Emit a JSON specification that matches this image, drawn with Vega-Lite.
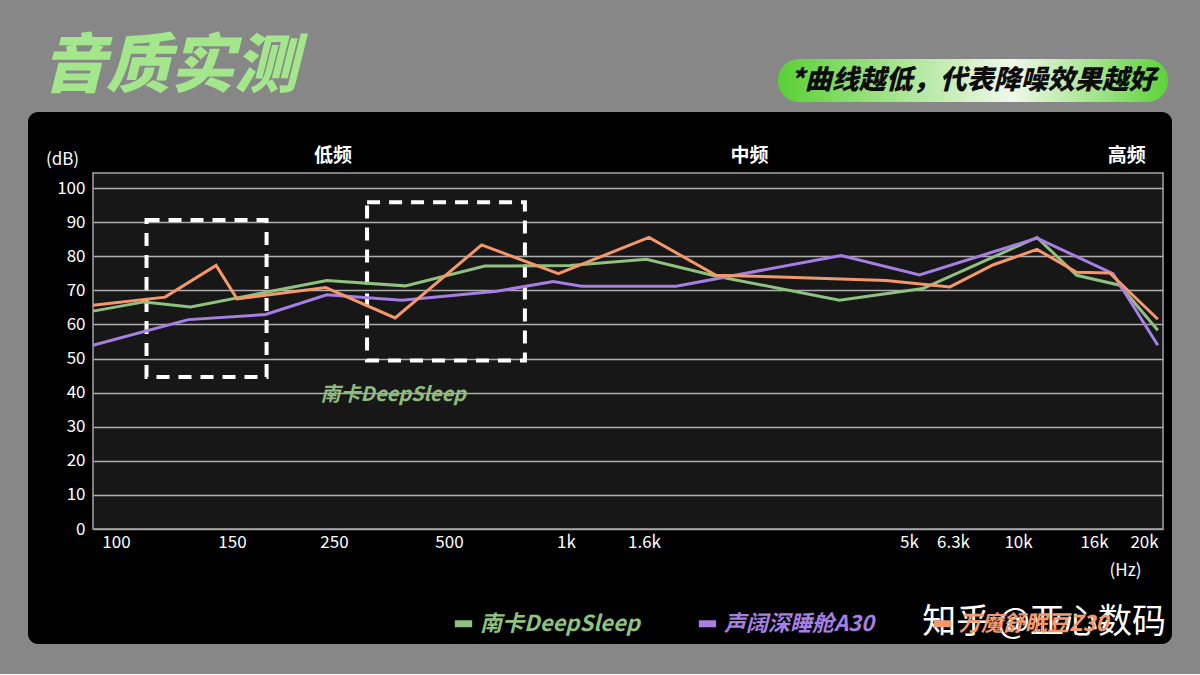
{
  "$schema": "https://vega.github.io/schema/vega-lite/v6.json",
  "background": "#878787",
  "padding": {"left": 28, "right": 28, "top": 36, "bottom": 30},
  "title": {
    "text": "音质实测",
    "anchor": "start",
    "orient": "top",
    "baseline": "bottom",
    "offset": -105,
    "dx": 14,
    "font": "Noto Sans CJK SC",
    "fontSize": 64,
    "fontWeight": 900,
    "fontStyle": "italic",
    "color": "#a3e68b"
  },
  "spacing": 10,
  "vconcat": [
    {
      "spacing": 0,
      "hconcat": [
        {
          "width": 750,
          "height": 43,
          "data": {"values": [{}]},
          "mark": {"type": "text", "text": ""}
        },
        {
          "width": 390,
          "height": 43,
          "data": {"values": [{}]},
          "layer": [
            {
              "mark": {
                "type": "rect",
                "cornerRadius": 21,
                "color": {
                  "gradient": "linear",
                  "x1": 0, "x2": 1, "y1": 0, "y2": 0,
                  "stops": [
                    {"offset": 0, "color": "#5ad034"},
                    {"offset": 0.6, "color": "#f0f8ea"},
                    {"offset": 1, "color": "#5ed23a"}
                  ]
                }
              },
              "encoding": {}
            },
            {
              "mark": {
                "type": "text",
                "text": "*曲线越低，代表降噪效果越好",
                "font": "Noto Sans CJK SC",
                "fontSize": 27,
                "fontWeight": 900,
                "fontStyle": "italic",
                "color": "#0d0d0d"
              },
              "encoding": {}
            }
          ]
        }
      ]
    },
    {
      "width": 1144,
      "height": 532,
      "view": {"fill": "#000000", "cornerRadius": 10, "stroke": null},
      "title": {
        "text": "知乎 @亚心数码",
        "orient": "bottom",
        "anchor": "end",
        "frame": "group",
        "offset": -38,
        "dx": -6,
        "font": "Noto Sans CJK SC",
        "fontSize": 34,
        "fontWeight": "normal",
        "color": "#ffffff"
      },
      "encoding": {
        "x": {
          "field": "freq",
          "type": "quantitative",
          "scale": {
            "type": "linear",
            "domain": [80, 100, 150, 250, 500, 1000, 1600, 5000, 6300, 10000, 16000, 20000],
            "range": [65, 93, 209, 311, 426, 543, 621, 886, 930, 1009, 1085, 1135],
            "nice": false,
            "zero": false
          },
          "axis": {
            "orient": "bottom",
            "offset": -115,
            "values": [100, 150, 250, 500, 1000, 1600, 5000, 6300, 10000, 16000, 20000],
            "labelExpr": "datum.value >= 1000 ? (datum.value / 1000) + 'k' : datum.label",
            "domain": false,
            "ticks": false,
            "grid": false,
            "labelColor": "#ffffff",
            "labelFont": "Noto Sans CJK SC",
            "labelFontSize": 17,
            "labelPadding": 5,
            "labelFlush": false,
            "labelOverlap": false,
            "labelBound": false,
            "labelOffset": {"condition": {"test": "datum.value >= 10000", "value": -19}, "value": -5},
            "title": "(Hz)",
            "titleX": 1097,
            "titleY": 41,
            "titleAlign": "center",
            "titleBaseline": "middle",
            "titleColor": "#ffffff",
            "titleFont": "Noto Sans CJK SC",
            "titleFontSize": 17,
            "titleFontWeight": "normal"
          }
        },
        "y": {
          "field": "db",
          "type": "quantitative",
          "scale": {"domain": [0, 104.4], "range": [417, 61], "nice": false, "zero": false},
          "axis": {
            "orient": "left",
            "offset": -65,
            "values": [0, 10, 20, 30, 40, 50, 60, 70, 80, 90, 100],
            "domain": false,
            "ticks": false,
            "grid": true,
            "gridColor": "#a6a6a6",
            "gridWidth": 1.5,
            "labelColor": "#ffffff",
            "labelFont": "Noto Sans CJK SC",
            "labelFontSize": 17,
            "labelPadding": 8,
            "title": "(dB)",
            "titleAngle": 0,
            "titleX": -31,
            "titleY": 47,
            "titleAlign": "center",
            "titleBaseline": "middle",
            "titleColor": "#ffffff",
            "titleFont": "Noto Sans CJK SC",
            "titleFontSize": 17,
            "titleFontWeight": "normal"
          }
        }
      },
      "layer": [
        {
          "data": {"values": [{"freq": 80, "freq2": 20000, "db": 0, "db2": 104.4}]},
          "mark": {"type": "rect", "fill": "#ffffff", "fillOpacity": 0.09, "stroke": "#a6a6a6", "strokeWidth": 1.5},
          "encoding": {
            "x2": {"field": "freq2"},
            "y2": {"field": "db2"}
          }
        },
        {
          "data": {
            "values": [
              {"freq": 100}, {"freq": 150}, {"freq": 250}, {"freq": 500}, {"freq": 1000},
              {"freq": 1600}, {"freq": 5000}, {"freq": 6300}, {"freq": 10000}, {"freq": 16000}
            ]
          },
          "mark": {"type": "rule", "color": "#a6a6a6", "strokeWidth": 1.5},
          "encoding": {
            "y": {"datum": 0},
            "y2": {"datum": 104.4}
          }
        },
        {
          "data": {
            "values": [
              {"freq": 111, "freq2": 179, "db": 44.6, "db2": 90.6},
              {"freq": 311, "freq2": 803, "db": 49.4, "db2": 95.8}
            ]
          },
          "mark": {"type": "rect", "filled": false, "stroke": "#ffffff", "strokeWidth": 4, "strokeDash": [13, 9]},
          "encoding": {
            "x2": {"field": "freq2"},
            "y2": {"field": "db2"}
          }
        },
        {
          "data": {
            "values": [
              {"model": "南卡DeepSleep", "freq": 80, "db": 63.9},
              {"model": "南卡DeepSleep", "freq": 110, "db": 66.6},
              {"model": "南卡DeepSleep", "freq": 130, "db": 65.1},
              {"model": "南卡DeepSleep", "freq": 238, "db": 72.9},
              {"model": "南卡DeepSleep", "freq": 394, "db": 71.3},
              {"model": "南卡DeepSleep", "freq": 632, "db": 77.1},
              {"model": "南卡DeepSleep", "freq": 996, "db": 77.3},
              {"model": "南卡DeepSleep", "freq": 1580, "db": 79.1},
              {"model": "南卡DeepSleep", "freq": 2453, "db": 74.2},
              {"model": "南卡DeepSleep", "freq": 4044, "db": 67.1},
              {"model": "南卡DeepSleep", "freq": 5263, "db": 70.5},
              {"model": "南卡DeepSleep", "freq": 10000, "db": 85.5},
              {"model": "南卡DeepSleep", "freq": 13133, "db": 74.4},
              {"model": "南卡DeepSleep", "freq": 16534, "db": 71.5},
              {"model": "南卡DeepSleep", "freq": 19586, "db": 58.3},
              {"model": "声阔深睡舱A30", "freq": 80, "db": 53.9},
              {"model": "声阔深睡舱A30", "freq": 129, "db": 61.4},
              {"model": "声阔深睡舱A30", "freq": 178, "db": 62.9},
              {"model": "声阔深睡舱A30", "freq": 238, "db": 68.7},
              {"model": "声阔深睡舱A30", "freq": 387, "db": 67.1},
              {"model": "声阔深睡舱A30", "freq": 683, "db": 69.7},
              {"model": "声阔深睡舱A30", "freq": 924, "db": 72.6},
              {"model": "声阔深睡舱A30", "freq": 1082, "db": 71.2},
              {"model": "声阔深睡舱A30", "freq": 1949, "db": 71.2},
              {"model": "声阔深睡舱A30", "freq": 4066, "db": 80.2},
              {"model": "声阔深睡舱A30", "freq": 5164, "db": 74.5},
              {"model": "声阔深睡舱A30", "freq": 10000, "db": 85.3},
              {"model": "声阔深睡舱A30", "freq": 16000, "db": 74.9},
              {"model": "声阔深睡舱A30", "freq": 19586, "db": 53.9},
              {"model": "万魔舒眠豆Z30", "freq": 80, "db": 65.6},
              {"model": "万魔舒眠豆Z30", "freq": 119, "db": 68.0},
              {"model": "万魔舒眠豆Z30", "freq": 141, "db": 77.3},
              {"model": "万魔舒眠豆Z30", "freq": 150, "db": 67.5},
              {"model": "万魔舒眠豆Z30", "freq": 237, "db": 70.8},
              {"model": "万魔舒眠豆Z30", "freq": 372, "db": 61.9},
              {"model": "万魔舒眠豆Z30", "freq": 618, "db": 83.3},
              {"model": "万魔舒眠豆Z30", "freq": 946, "db": 74.9},
              {"model": "万魔舒眠豆Z30", "freq": 1600, "db": 85.5},
              {"model": "万魔舒眠豆Z30", "freq": 2460, "db": 74.4},
              {"model": "万魔舒眠豆Z30", "freq": 3274, "db": 73.9},
              {"model": "万魔舒眠豆Z30", "freq": 4643, "db": 72.9},
              {"model": "万魔舒眠豆Z30", "freq": 6061, "db": 71.0},
              {"model": "万魔舒眠豆Z30", "freq": 7960, "db": 77.5},
              {"model": "万魔舒眠豆Z30", "freq": 10000, "db": 82.0},
              {"model": "万魔舒眠豆Z30", "freq": 13133, "db": 75.3},
              {"model": "万魔舒眠豆Z30", "freq": 15742, "db": 75.1},
              {"model": "万魔舒眠豆Z30", "freq": 19586, "db": 61.5}
            ]
          },
          "mark": {"type": "line", "strokeWidth": 3},
          "encoding": {
            "color": {
              "field": "model",
              "type": "nominal",
              "scale": {
                "domain": ["南卡DeepSleep", "声阔深睡舱A30", "万魔舒眠豆Z30"],
                "range": ["#8fc17f", "#a57fe4", "#f4976a"]
              },
              "legend": {
                "orient": "none",
                "legendX": 423,
                "legendY": 552,
                "direction": "horizontal",
                "title": null,
                "symbolType": "stroke",
                "symbolStrokeWidth": 7,
                "symbolSize": 300,
                "labelFont": "Noto Sans CJK SC",
                "labelFontSize": 22,
                "labelFontStyle": "italic",
                "labelFontWeight": "bold",
                "labelOffset": 4,
                "columnPadding": 44,
                "encode": {"labels": {"update": {"fill": {"scale": "color", "field": "value"}}}}
              }
            }
          }
        },
        {
          "data": {"values": [{"label": "南卡DeepSleep", "freq": 368, "db": 39.3}]},
          "mark": {"type": "text", "font": "Noto Sans CJK SC", "fontSize": 20, "fontWeight": "bold", "fontStyle": "italic", "color": "#8fbc7e"},
          "encoding": {"text": {"field": "label"}}
        },
        {
          "data": {
            "values": [
              {"label": "低频", "freq": 244, "db": 109.4},
              {"label": "中频", "freq": 2889, "db": 109.4},
              {"label": "高频", "freq": 17090, "db": 109.4}
            ]
          },
          "mark": {"type": "text", "font": "Noto Sans CJK SC", "fontSize": 19, "fontWeight": "bold", "color": "#ffffff"},
          "encoding": {"text": {"field": "label"}}
        }
      ]
    }
  ],
  "config": {
    "view": {"stroke": null},
    "font": "Noto Sans CJK SC"
  }
}
